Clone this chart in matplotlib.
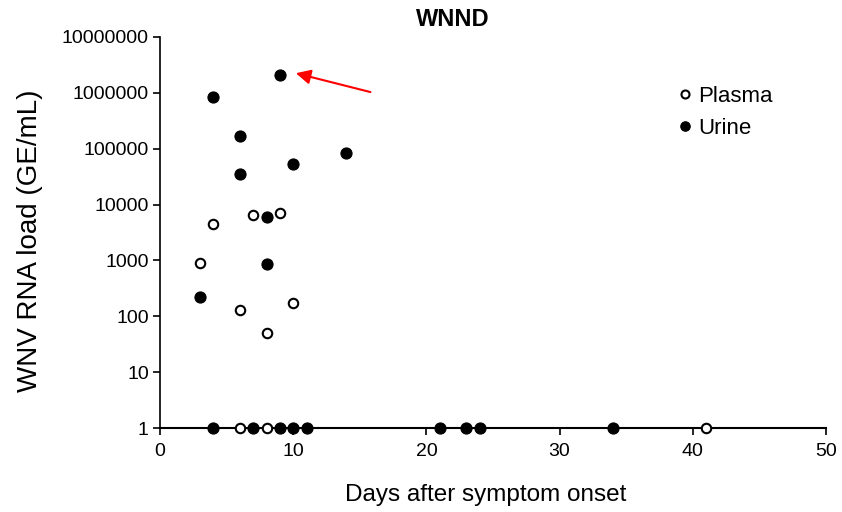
import matplotlib.pyplot as plt

plt.rcParams['font.family'] = ['Liberation Sans', 'DejaVu Sans']

# Plasma (open circles)
plasma_days = [3, 4, 7, 9, 6, 10, 8, 6, 8, 41]
plasma_load = [900, 4500, 6500, 7000, 130, 170, 50, 1, 1, 1]

# Urine (filled circles)
urine_days = [9, 4, 6, 14, 10, 6, 8, 8, 3,
              4, 7, 9, 10, 11, 21, 23, 24, 34]
urine_load = [2100000, 850000, 170000, 85000, 52000, 35000, 6000, 850, 220,
              1, 1, 1, 1, 1, 1, 1, 1, 1]

y_ticks = [1, 10, 100, 1000, 10000, 100000, 1000000, 10000000]

fig = plt.figure(figsize=(8.42, 5.12), dpi=100)
ax = fig.add_axes([0.19, 0.164, 0.791, 0.764])

ax.plot(urine_days, urine_load, 'o', color='black', ms=8, mew=0.8,
        label='Urine', clip_on=False, zorder=3)
ax.plot(plasma_days, plasma_load, 'o', mfc='white', mec='black', ms=6.8, mew=1.5,
        label='Plasma', clip_on=False, zorder=4)

ax.set_yscale('log')
ax.set_ylim(1, 10000000)
ax.set_xlim(0, 50)
ax.set_yticks(y_ticks)
ax.set_yticklabels([str(v) for v in y_ticks])
ax.minorticks_off()
ax.set_xticks([0, 10, 20, 30, 40, 50])

for s in ['top', 'right']:
    ax.spines[s].set_visible(False)
ax.spines['left'].set_linewidth(1.2)
ax.spines['bottom'].set_linewidth(1.5)
ax.tick_params(axis='both', labelsize=14, direction='out', length=5, width=1.2)
ax.tick_params(axis='y', pad=3)
ax.tick_params(axis='x', pad=6)

# title sits over the whole chart area, not the plot box
fig.text(453 / 842, 1 - 19 / 512, 'WNND', fontsize=17, fontweight='bold',
         ha='center', va='center')
fig.text(486 / 842, 1 - 495 / 512, 'Days after symptom onset', fontsize=17.5,
         ha='center', va='center')
fig.text(30 / 842, 1 - 241 / 512, 'WNV RNA load (GE/mL)', fontsize=20,
         ha='center', va='center', rotation=90)

ax.annotate('', xy=(10.0, 2300000), xytext=(16.0, 1000000),
            arrowprops=dict(arrowstyle='-|>', color='red', lw=1.5,
                            mutation_scale=22))

handles, labels = ax.get_legend_handles_labels()
fig.legend(handles[::-1], labels[::-1], loc='upper left',
           bbox_to_anchor=(674 / 842, 1 - 86 / 512),
           frameon=False, fontsize=16, markerscale=0.85, handletextpad=0.1,
           handlelength=1.0, labelspacing=0.5, borderaxespad=0, borderpad=0)

fig.savefig('out.png', dpi=100)
